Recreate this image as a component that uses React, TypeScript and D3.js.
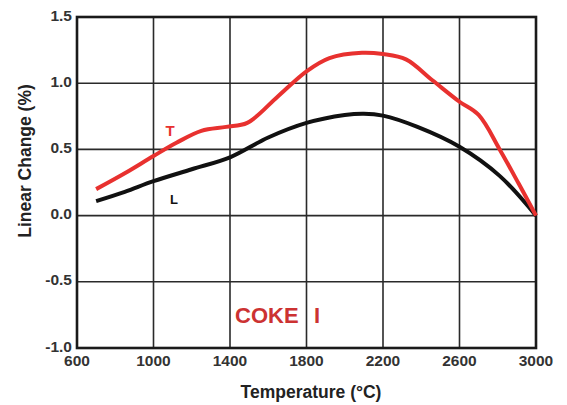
import React from "react";
import * as d3 from "d3";

const W = 567;
const H = 405;
const margin = { top: 17, right: 31, bottom: 57, left: 77 };

// temperature ticks and linear change ticks
const xTicks = [600, 1000, 1400, 1800, 2200, 2600, 3000];
const yTicks = [-1.0, -0.5, 0.0, 0.5, 1.0, 1.5];

// T curve (red)
const tTemp = [700, 850, 1000, 1120, 1250, 1380, 1490, 1650, 1800, 1920, 2090, 2200, 2320, 2460, 2600, 2700, 2810, 2910, 3000];
const tChange = [0.2, 0.32, 0.45, 0.55, 0.64, 0.67, 0.7, 0.9, 1.09, 1.19, 1.23, 1.22, 1.18, 1.02, 0.86, 0.76, 0.5, 0.24, 0.0];

// L curve (black)
const lTemp = [700, 850, 1000, 1200, 1400, 1600, 1800, 2000, 2100, 2200, 2380, 2600, 2810, 3000];
const lChange = [0.11, 0.18, 0.26, 0.35, 0.44, 0.59, 0.7, 0.76, 0.77, 0.755, 0.67, 0.52, 0.3, 0.0];

const App = () => {
  const x = d3.scaleLinear().domain([600, 3000]).range([margin.left, W - margin.right]);
  const y = d3.scaleLinear().domain([-1.0, 1.5]).range([H - margin.bottom, margin.top]);

  const line = d3
    .line<[number, number]>()
    .x(d => x(d[0]))
    .y(d => y(d[1]))
    .curve(d3.curveCatmullRom.alpha(0.5));

  const tPath = line(tTemp.map((t, i) => [t, tChange[i]]) as [number, number][]) || "";
  const lPath = line(lTemp.map((t, i) => [t, lChange[i]]) as [number, number][]) || "";

  const font = "'Liberation Sans', Arial, sans-serif";
  const x0 = margin.left;
  const x1 = W - margin.right;
  const y0 = H - margin.bottom;
  const y1 = margin.top;

  return (
    <svg
      width={W}
      height={H}
      style={{ position: "absolute", left: 0, top: 0, background: "#fff" }}
      fontFamily={font}
    >
      {/* grid */}
      {xTicks.slice(1, -1).map(t => (
        <line key={"gx" + t} x1={x(t)} x2={x(t)} y1={y1} y2={y0} stroke="#2a2a2a" strokeWidth={1.6} />
      ))}
      {yTicks.slice(1, -1).map(t => (
        <line key={"gy" + t} x1={x0} x2={x1} y1={y(t)} y2={y(t)} stroke="#2a2a2a" strokeWidth={1.6} />
      ))}
      <rect x={x0} y={y1} width={x1 - x0} height={y0 - y1} fill="none" stroke="#1a1a1a" strokeWidth={2.6} />

      {/* tick labels */}
      {xTicks.map(t => (
        <text key={"tx" + t} x={x(t)} y={y0 + 18} textAnchor="middle" fontSize={15.5} fontWeight="bold" fill="#333">
          {t}
        </text>
      ))}
      {yTicks.map(t => (
        <text key={"ty" + t} x={x0 - 5} y={y(t) + 3.5} textAnchor="end" fontSize={15.5} fontWeight="bold" fill="#333">
          {t.toFixed(1)}
        </text>
      ))}

      {/* axis titles */}
      <text x={311} y={398} textAnchor="middle" fontSize={17.5} fontWeight="bold" fill="#222">
        Temperature (°C)
      </text>
      <text
        transform={`translate(31, 161) rotate(-90)`}
        textAnchor="middle"
        fontSize={17.5}
        fontWeight="bold"
        fill="#222"
      >
        Linear Change (%)
      </text>

      {/* curves */}
      <path d={lPath} fill="none" stroke="#111" strokeWidth={4} strokeLinejoin="round" />
      <path d={tPath} fill="none" stroke="#e8312f" strokeWidth={4} strokeLinejoin="round" />

      {/* annotations */}
      <text x={170} y={136} textAnchor="middle" fontSize={15} fontWeight="bold" fill="#e8312f">T</text>
      <text x={174} y={204} textAnchor="middle" fontSize={13} fontWeight="bold" fill="#111">L</text>
      <text x={235} y={323} fontSize={22} fontWeight="bold" fill="#cc3232">COKE</text>
      <text x={314} y={323} fontSize={22} fontWeight="bold" fill="#cc3232">I</text>
    </svg>
  );
};

export default App;
